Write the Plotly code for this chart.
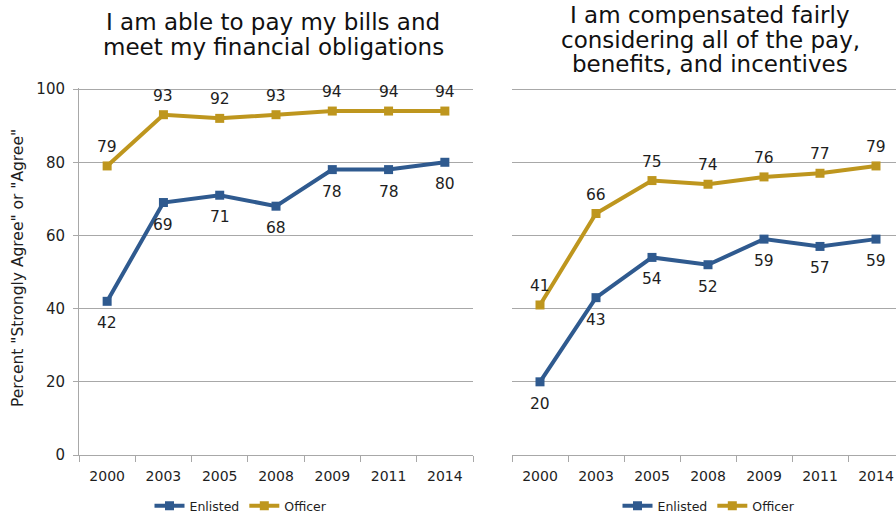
import plotly.graph_objects as go
from plotly.subplots import make_subplots

years = ["2000", "2003", "2005", "2008", "2009", "2011", "2014"]

bills_enlisted = [42, 69, 71, 68, 78, 78, 80]
bills_officer = [79, 93, 92, 93, 94, 94, 94]

comp_enlisted = [20, 43, 54, 52, 59, 57, 59]
comp_officer = [41, 66, 75, 74, 76, 77, 79]

title_left = ["I am able to pay my bills and", "meet my financial obligations"]
title_right = ["I am compensated fairly", "considering all of the pay,", "benefits, and incentives"]
y_title = 'Percent "Strongly Agree" or "Agree"'

BLUE = "#2F5A8F"
GOLD = "#BE961E"
GRID = "#A8A8A8"
FONT = "DejaVu Sans"
INK = "#1E1E1E"

W, H = 896, 519

fig = make_subplots(rows=1, cols=2)


def add_series(values, name, color, shift, col, legend):
    fig.add_trace(
        go.Scatter(
            x=years,
            y=values,
            name=name,
            mode="lines+markers",
            line=dict(color=color, width=4),
            marker=dict(symbol="square", size=9, color=color),
            cliponaxis=False,
            legend=legend,
        ),
        row=1,
        col=col,
    )
    # value labels above / below each point (category axes take serial indices)
    xref = "x" if col == 1 else "x2"
    yref = "y" if col == 1 else "y2"
    for i, v in enumerate(values):
        fig.add_annotation(
            x=i, y=v, xref=xref, yref=yref, text=str(v), showarrow=False,
            yshift=shift, xanchor="center", yanchor="middle",
            font=dict(family=FONT, size=15.5, color=INK),
        )


add_series(bills_enlisted, "Enlisted", BLUE, -22, 1, "legend")
add_series(bills_officer, "Officer", GOLD, 19, 1, "legend")
add_series(comp_enlisted, "Enlisted", BLUE, -22, 2, "legend2")
add_series(comp_officer, "Officer", GOLD, 19, 2, "legend2")

y_dom = [1 - 455 / H, 1 - 88 / H]

xcommon = dict(
    type="category",
    showline=True,
    linecolor=GRID,
    linewidth=1,
    ticks="outside",
    tickson="boundaries",
    ticklen=6,
    tickcolor=GRID,
    showgrid=False,
    ticklabelstandoff=8,
    automargin=False,
    tickfont=dict(family=FONT, size=14, color=INK),
    fixedrange=True,
)

fig.update_xaxes(xcommon, row=1, col=1, domain=[79 / W, 473 / W], range=[-0.5, 6.5])
fig.update_xaxes(xcommon, row=1, col=2, domain=[512 / W, 1.0], range=[-0.5, -0.5 + 384 / 56])

ycommon = dict(
    domain=y_dom, range=[0, 100.3], tickvals=[0, 20, 40, 60, 80, 100],
    showgrid=True, gridcolor=GRID, gridwidth=1, zeroline=False,
    automargin=False, fixedrange=True,
)
fig.update_yaxes(
    ycommon, row=1, col=1,
    showline=True, linecolor=GRID, linewidth=1,
    ticks="outside", ticklen=5, tickcolor=GRID, ticklabelstandoff=5,
    tickfont=dict(family=FONT, size=15, color=INK),
)
fig.update_yaxes(
    ycommon, row=1, col=2,
    showline=False, showticklabels=False, ticks="",
)

for i, line in enumerate(title_left):
    fig.add_annotation(
        text=line, x=273 / W, y=1 - (22 + 25 * i) / H, xref="paper", yref="paper",
        showarrow=False, font=dict(family=FONT, size=23, color="#111111"),
        xanchor="center", yanchor="middle",
    )
for i, line in enumerate(title_right):
    fig.add_annotation(
        text=line, x=710 / W, y=1 - (15 + 24.5 * i) / H, xref="paper", yref="paper",
        showarrow=False, font=dict(family=FONT, size=23, color="#111111"),
        xanchor="center", yanchor="middle",
    )
fig.add_annotation(
    text=y_title, x=18 / W, y=1 - 268 / H, xref="paper", yref="paper",
    showarrow=False, textangle=-90, font=dict(family=FONT, size=15.5, color=INK),
    xanchor="center", yanchor="middle",
)

legend_style = dict(
    orientation="h",
    xanchor="center",
    yanchor="middle",
    y=1 - 506 / H,
    font=dict(family=FONT, size=12.5, color=INK),
    bgcolor="rgba(0,0,0,0)",
    itemwidth=30,
    traceorder="normal",
)
fig.update_layout(
    width=W,
    height=H,
    margin=dict(l=0, r=0, t=0, b=0, autoexpand=False),
    paper_bgcolor="white",
    plot_bgcolor="white",
    legend=dict(legend_style, x=241 / W),
    legend2=dict(legend_style, x=709 / W),
)

fig.write_html("out.html", config={"displayModeBar": False})
